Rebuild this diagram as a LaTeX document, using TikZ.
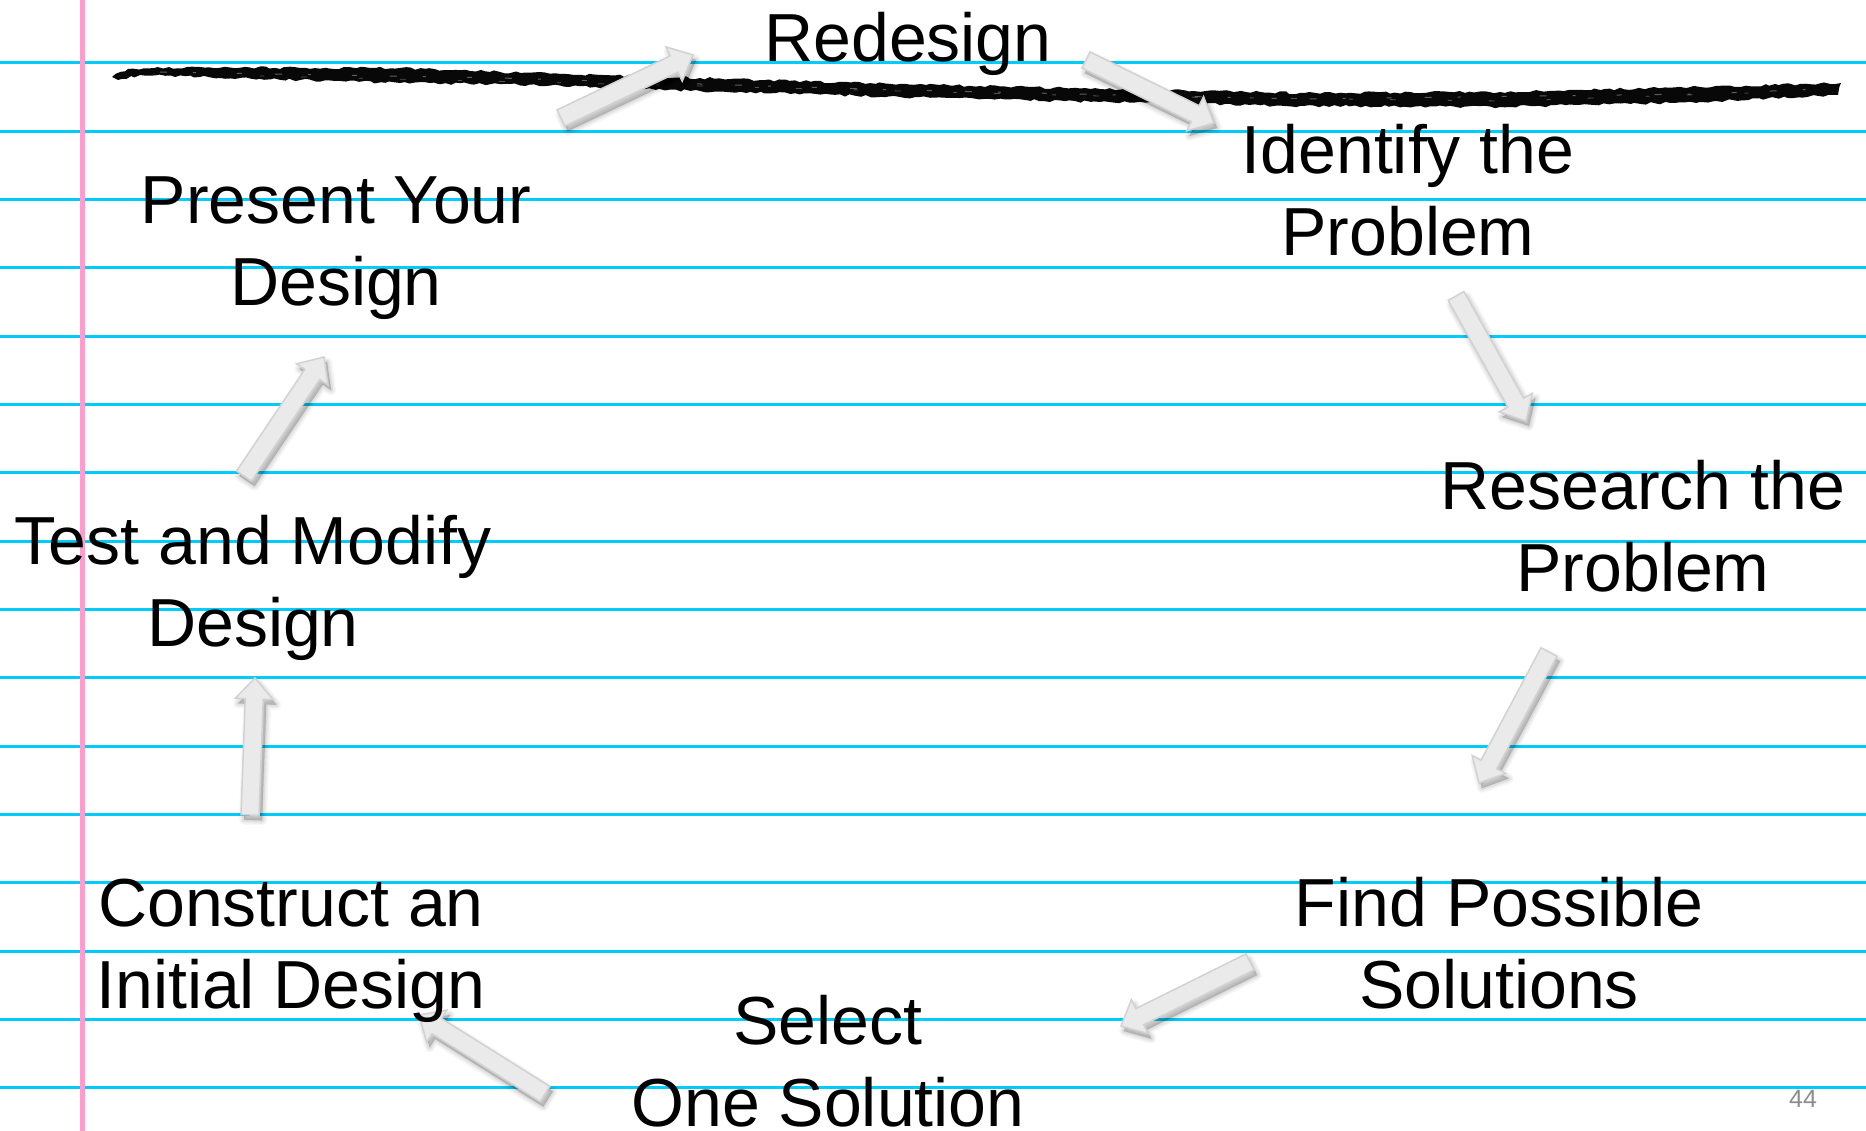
\documentclass[tikz,border=0pt]{standalone}
\usepackage{fontspec}
\setmainfont{Liberation Sans}
\usetikzlibrary{calc,decorations.pathmorphing}

\definecolor{rulecyan}{RGB}{0,204,250}
\definecolor{marginpink}{RGB}{255,158,206}
\definecolor{arrowfill}{RGB}{234,234,234}
\definecolor{arrowedge}{RGB}{210,210,210}
\definecolor{pagegray}{RGB}{140,140,140}
\definecolor{markerink}{RGB}{8,8,8}

\tikzset{
  ruleline/.style={rulecyan, line width=3pt},
  marginline/.style={marginpink, line width=5pt},
  % multi-line nodes sit on the baseline of their last line
  steptext/.style={font=\fontsize{68}{82}\selectfont, align=center, inner sep=0pt, anchor=base},
  arrowbody/.style={fill=arrowfill, draw=arrowedge, line width=1.5pt, line join=miter},
  arrowshade/.style={fill=black, draw=black, line join=round},
}

% Block arrow from #1 (tail) to #2 (tip), with a soft shadow
\newcommand{\blockarrow}[2]{%
  \coordinate (ba-h)  at ($(#2)!21pt!(#1)$);
  \coordinate (ba-p1) at ($(#1)!9pt!90:(#2)$);
  \coordinate (ba-p2) at ($(#1)!9pt!-90:(#2)$);
  \coordinate (ba-p3) at ($(ba-h)!9pt!90:(#2)$);
  \coordinate (ba-p4) at ($(ba-h)!19pt!90:(#2)$);
  \coordinate (ba-p5) at ($(ba-h)!19pt!-90:(#2)$);
  \coordinate (ba-p6) at ($(ba-h)!9pt!-90:(#2)$);
  \begin{scope}[transform canvas={shift={(3,5)}}]
    \foreach \w/\o in {10/0.035,7/0.04,4/0.05,1/0.06}{
      \filldraw[arrowshade, opacity=\o, line width=\w pt]
        (ba-p1) -- (ba-p3) -- (ba-p4) -- (#2) -- (ba-p5) -- (ba-p6) -- (ba-p2) -- cycle;
    }
  \end{scope}
  \filldraw[arrowbody]
    (ba-p1) -- (ba-p3) -- (ba-p4) -- (#2) -- (ba-p5) -- (ba-p6) -- (ba-p2) -- cycle;
}

\begin{document}
\begin{tikzpicture}[x=1pt, y=-1pt]
  % page
  \useasboundingbox (0,0) rectangle (1866,1131);
  \clip (0,0) rectangle (1866,1131);
  \fill[white] (0,0) rectangle (1866,1131);

  % ruled lines and margin
  \foreach \k in {0,...,15}{
    \draw[ruleline] (0,{63+68.33*\k}) -- (1866,{63+68.33*\k});
  }
  \draw[marginline] (82,0) -- (82,1131);

  % marker stroke across the top
  \fill[markerink, decorate, decoration={random steps, segment length=5pt, amplitude=1.3pt}]
    (112,77) -- (128,69) -- (200,67) -- (300,68) -- (400,68) -- (500,72) -- (700,78)
    -- (900,84) -- (1100,89) -- (1300,93) -- (1500,92) -- (1700,87) -- (1800,84) -- (1841,83)
    -- (1838,95) -- (1700,102) -- (1500,107) -- (1300,106) -- (1100,102) -- (900,97)
    -- (700,91) -- (500,84) -- (400,83) -- (300,80) -- (200,77) -- (140,75) -- (118,80) -- cycle;
  % dry-brush streaks inside the stroke
  \draw[white, opacity=0.35, line width=1pt, dash pattern=on 7pt off 26pt on 3pt off 41pt on 5pt off 33pt]
    (160,72) -- (500,78) -- (900,90) -- (1300,99) -- (1700,94) -- (1820,89);
  \draw[white, opacity=0.3, line width=0.8pt, dash pattern=on 4pt off 37pt on 6pt off 52pt]
    (260,76) -- (700,86) -- (1100,96) -- (1500,101) -- (1780,92);

  % arrow end points
  \coordinate (t1) at (561,118);  \coordinate (h1) at (693,55);
  \coordinate (t2) at (1086,60);  \coordinate (h2) at (1214,123);
  \coordinate (t3) at (1456,296); \coordinate (h3) at (1526,421);
  \coordinate (t4) at (1549,652); \coordinate (h4) at (1479,783);
  \coordinate (t5) at (1250,962); \coordinate (h5) at (1121,1026);
  \coordinate (t6) at (545,1094); \coordinate (h6) at (419,1015);
  \coordinate (t7) at (250,815);  \coordinate (h7) at (255,678);
  \coordinate (t8) at (244,476);  \coordinate (h8) at (324,357);

  \blockarrow{t1}{h1}
  \blockarrow{t2}{h2}
  \blockarrow{t3}{h3}
  \blockarrow{t4}{h4}
  \blockarrow{t5}{h5}
  \blockarrow{t6}{h6}
  \blockarrow{t7}{h7}
  \blockarrow{t8}{h8}

  % steps of the cycle
  \node[steptext] (redesign)  at (908,62)   {Redesign};
  \node[steptext] (identify)  at (1408,256) {Identify the\\Problem};
  \node[steptext] (research)  at (1643,591) {Research the\\Problem};
  \node[steptext] (find)      at (1499,1008) {Find Possible\\Solutions};
  \node[steptext] (select)    at (828,1126) {Select\\One Solution};
  \node[steptext] (construct) at (291,1008) {Construct an\\Initial Design};
  \node[steptext] (test)      at (253,646)  {Test and Modify\\Design};
  \node[steptext] (present)   at (336,306)  {Present Your\\Design};

  % page number
  \node[font=\fontsize{25}{30}\selectfont, text=pagegray, inner sep=0pt, anchor=base] (pgnum) at (1803,1107) {44};
\end{tikzpicture}
\end{document}
